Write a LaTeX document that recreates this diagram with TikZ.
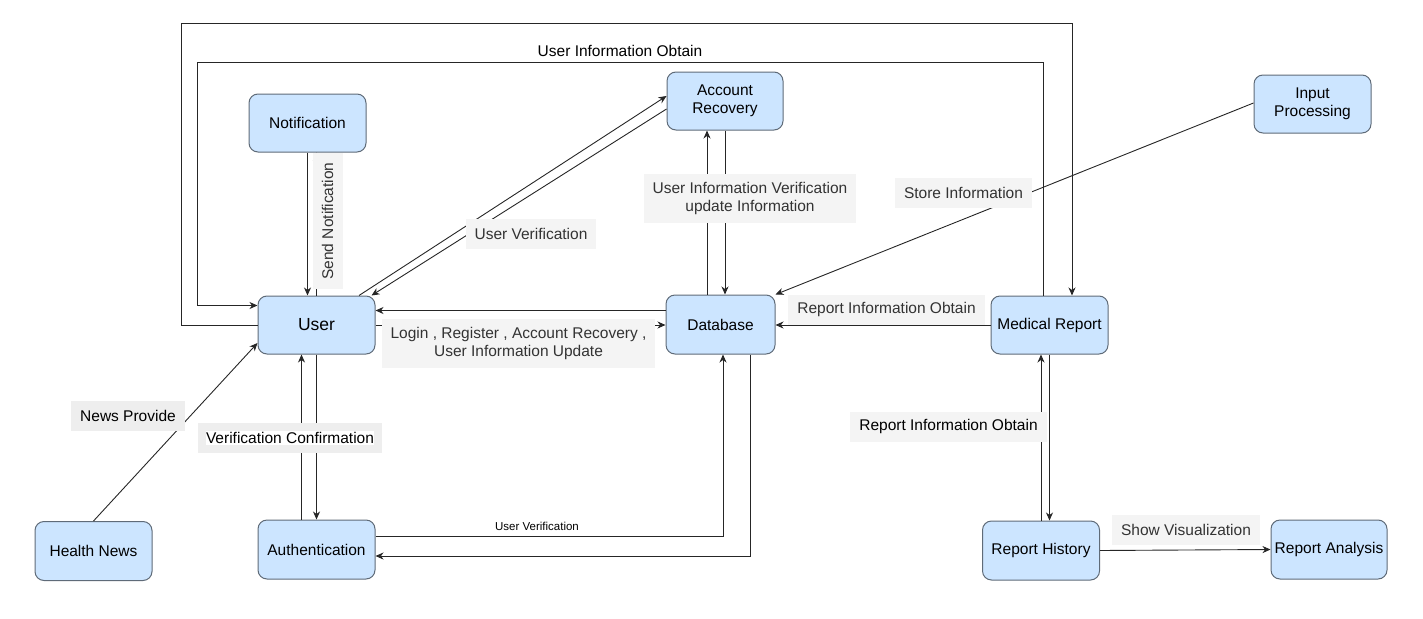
\documentclass[tikz,border=0pt]{standalone}
\usepackage{fontspec}
\setmainfont{Liberation Sans}
\usetikzlibrary{arrows.meta}
\definecolor{boxfill}{HTML}{CCE5FF}
\definecolor{boxline}{HTML}{5F6B78}
\definecolor{lblfill}{HTML}{F4F4F4}
\definecolor{lblframe}{HTML}{EEEEEE}
\definecolor{lbltext}{HTML}{333333}
\newcommand\diagfont{\fontsize{15.5}{18}\selectfont}

\begin{document}
\begin{tikzpicture}[x=1pt,y=-1pt,
    box/.style={draw=boxline,fill=boxfill,rounded corners=9pt,line width=1pt,
      minimum width=117pt,minimum height=58pt,align=center,font=\diagfont},
    lbl/.style={fill=lblfill,text=lbltext,inner xsep=9pt,inner ysep=0pt,
      minimum height=30pt,align=center,font=\diagfont},
    arr/.style={draw=black!85,line width=0.9pt,-{Stealth[length=8pt,width=7pt,inset=2.5pt]}}]
        \useasboundingbox (0,0) rectangle (1423,618);
        \node[box] (Notif) at (307.5,123) {Notification};
        \node[box,font=\fontsize{17.5}{20}\selectfont] (User) at (316.5,325) {User};
        \node[box,minimum width=116pt] (AccRec) at (725,101) {Account\\Recovery};
        \node[box,minimum width=109pt,minimum height=59pt] (DB) at (720.5,324.5) {Database};
        \node[box] (Input) at (1312.5,104) {Input\\Processing};
        \node[box] (MedRep) at (1049.5,325) {Medical Report};
        \node[box,minimum height=59pt] (History) at (1041,550.5) {Report History};
        \node[box,minimum width=116pt,minimum height=59pt] (Analysis) at (1329,549.5) {Report Analysis};
        \node[box,minimum height=59pt] (News) at (93.5,551) {Health News};
        \node[box,minimum height=59pt] (Auth) at (316.5,549.5) {Authentication};
        \draw[arr] (User.west) -| (181,23) -| ([xshift=22.5pt]MedRep.north);
        \draw[arr] ([xshift=-6.5pt]MedRep.north) |- (197,62) |- ([yshift=19.5pt]User.west);
        \node[font=\diagfont] (ObtainLbl) at (620,51) {User Information Obtain};
        \draw[arr] (Notif.south) -- (Notif.south |- User.north);
        \draw[arr] (User.north) -- (User.north |- Notif.south);
        \node[lbl,rotate=90] (SendLbl) at (327.5,221) {Send Notification};
        \draw[arr] ([xshift=42.5pt]User.north) -- ([yshift=5pt]AccRec.west);
        \draw[arr] ([yshift=-8pt]AccRec.west) -- ([xshift=55pt]User.north);
        \node[lbl] (VerLbl) at (531,234) {User Verification};
        \draw[arr] ([xshift=-18pt]AccRec.south |- DB.north) -- ([xshift=-18pt]AccRec.south);
        \draw[arr] (AccRec.south) -- (AccRec.south |- DB.north);
        \node[lbl,minimum height=49pt] (UpdLbl) at (750,198.5) {User Information Verification\\update Information};
        \draw[arr] ([yshift=1pt]Input.west) -- (DB.north east);
        \node[lbl] (StoreLbl) at (963.5,192.5) {Store Information};
        \draw[arr] (MedRep.west) -- (MedRep.west -| DB.east);
        \node[lbl] (RepLbl) at (886.5,309.5) {Report Information Obtain};
        \draw[arr] ([yshift=14pt]DB.west) -- ([yshift=14pt]DB.west -| User.east);
        \draw[arr] (User.east) -- (User.east -| DB.west);
        \node[lbl,minimum height=49pt] (LoginLbl) at (518.5,343.5) {Login , Register , Account Recovery ,\\User Information Update};
        \draw[arr] ([yshift=13.5pt]Auth.east) -| ([xshift=2.5pt]DB.south);
        \node[font=\fontsize{11.5}{13}\selectfont] (AuthVerLbl) at (537,526) {User Verification};
        \draw[arr] ([xshift=29.5pt]DB.south) |- ([yshift=-6.5pt]Auth.east);
        \draw[arr] ([xshift=-15pt]Auth.north) -- ([xshift=-15pt]Auth.north |- User.south);
        \draw[arr] (User.south) -- (User.south |- Auth.north);
        \node[draw=lblframe,line width=8pt,fill=white,inner xsep=4pt,inner ysep=0pt,
          minimum height=22pt,font=\diagfont] (ConfLbl) at (290,438) {Verification Confirmation};
        \draw[arr] (News.north) -- ([yshift=-18pt]User.west);
        \node[lbl,fill=lblframe,text=black] (NewsLbl) at (128,416) {News Provide};
        \draw[arr] (History.north) -- (History.north |- MedRep.south);
        \draw[arr] (MedRep.south) -- (MedRep.south |- History.north);
        \node[lbl,text=black] (HistLbl) at (948.5,426.5) {Report Information Obtain};
        \draw[arr] (History.east) -- (Analysis.west);
        \node[lbl] (VisLbl) at (1186,530) {Show Visualization};
    \end{tikzpicture}
\end{document}
